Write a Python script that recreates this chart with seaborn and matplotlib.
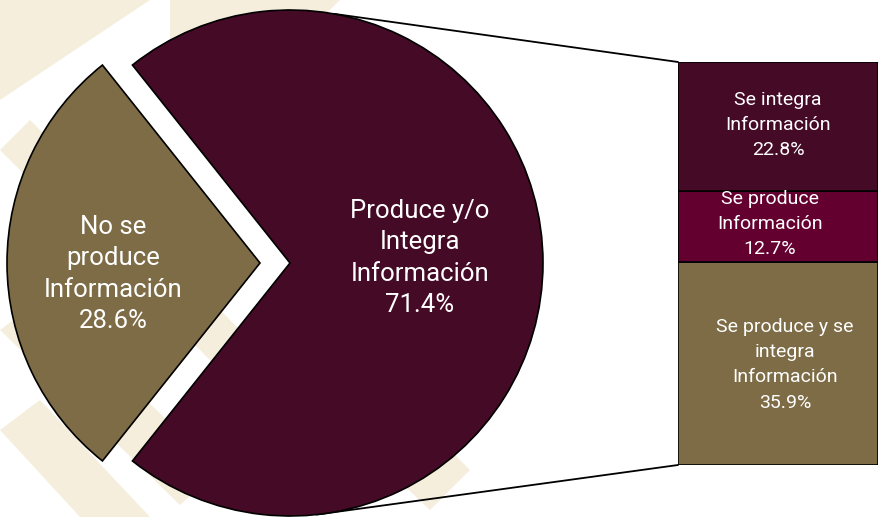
import matplotlib
matplotlib.use("Agg")
import matplotlib.pyplot as plt
from matplotlib.patches import ConnectionPatch, Polygon
import numpy as np
import seaborn as sns

# ---- data ----
pie_labels = ["No se\nproduce\nInformación", "Produce y/o\nIntegra\nInformación"]
pie_values = [28.6, 71.4]
bar_labels = ["Se produce y se\nintegra\nInformación", "Se produce\nInformación", "Se integra\nInformación"]
bar_values = [35.9, 12.7, 22.8]

pie_colors = ["#7D6C45", "#450A26"]
bar_colors = ["#7D6C45", "#640030", "#450A26"]

sns.set_theme(style="white")
plt.rcParams["font.family"] = ["Roboto", "DejaVu Sans"]

fig = plt.figure(figsize=(8.8, 5.17), dpi=100)
fig.patch.set_facecolor("white")

# background watermark-like pattern
bg = fig.add_axes([0, 0, 1, 1], zorder=0)
bg.set_xlim(0, 880)
bg.set_ylim(517, 0)
bg.axis("off")
beige = "#F5EEDD"
shapes = [
    [(0, 0), (150, 0), (0, 100)],
    [(170, 0), (340, 0), (300, 40), (170, 40)],
    [(0, 150), (30, 120), (300, 390), (270, 420)],
    [(0, 330), (40, 300), (220, 470), (180, 505)],
    [(0, 430), (40, 400), (150, 517), (80, 517)],
    [(250, 340), (300, 300), (470, 470), (430, 510)],
]
for s in shapes:
    bg.add_patch(Polygon(s, closed=True, facecolor=beige, edgecolor="none"))

# pie axes in pixel-like units
ax = fig.add_axes([0, 0, 1, 1], zorder=1)
ax.patch.set_alpha(0)

cx, cy, r = 290, 254, 253
gap = 30
wedges, _ = ax.pie(
    pie_values, colors=pie_colors, startangle=180 - 360 * pie_values[0] / 200,
    counterclock=True, explode=[gap, 0], center=(cx, cy), radius=r,
    wedgeprops=dict(edgecolor="black", linewidth=1.2), frame=True,
)
ax.set_xlim(0, 880)
ax.set_ylim(0, 517)
ax.set_aspect("equal")
ax.axis("off")

ax.text(113, 517 - 274, pie_labels[0] + "\n" + f"{pie_values[0]:.1f}%", ha="center", va="center",
        color="white", fontsize=18.5, linespacing=1.4)
ax.text(420, 517 - 258, pie_labels[1] + "\n" + f"{pie_values[1]:.1f}%", ha="center", va="center",
        color="white", fontsize=18.5, linespacing=1.38)

# stacked bar axes
bx = fig.add_axes([678 / 880, (517 - 465) / 517, 200 / 880, 403 / 517], zorder=2)
bottom = 0
for val, col in zip(bar_values, bar_colors):
    bx.bar(0, val, width=1, bottom=bottom, color=col, edgecolor="black", linewidth=1.2)
    bottom += val
bx.set_xlim(-0.5, 0.5)
bx.set_ylim(0, sum(bar_values))
bx.axis("off")

fs = 14
bx.text(0.035, bar_values[0] * 0.495, bar_labels[0] + "\n" + f"{bar_values[0]:.1f}%", ha="center", va="center",
        color="white", fontsize=fs, linespacing=1.52)
bx.text(-0.04, bar_values[0] + bar_values[1] / 2 + 0.4, bar_labels[1] + "\n" + f"{bar_values[1]:.1f}%",
        ha="center", va="center", color="white", fontsize=fs, linespacing=1.5)
bx.text(0.0, bar_values[0] + bar_values[1] + bar_values[2] * 0.51, bar_labels[2] + "\n" + f"{bar_values[2]:.1f}%",
        ha="center", va="center", color="white", fontsize=fs, linespacing=1.48)

# connection lines
total = sum(bar_values)
for ang, ybar in [(80, total), (-84, 0)]:
    t = np.deg2rad(ang)
    con = ConnectionPatch(xyA=(-0.5, ybar), coordsA=bx.transData,
                          xyB=(cx + r * np.cos(t), cy + r * np.sin(t)), coordsB=ax.transData,
                          color="black", linewidth=1.3)
    fig.add_artist(con)

fig.savefig("out.png", dpi=100, facecolor="white")
